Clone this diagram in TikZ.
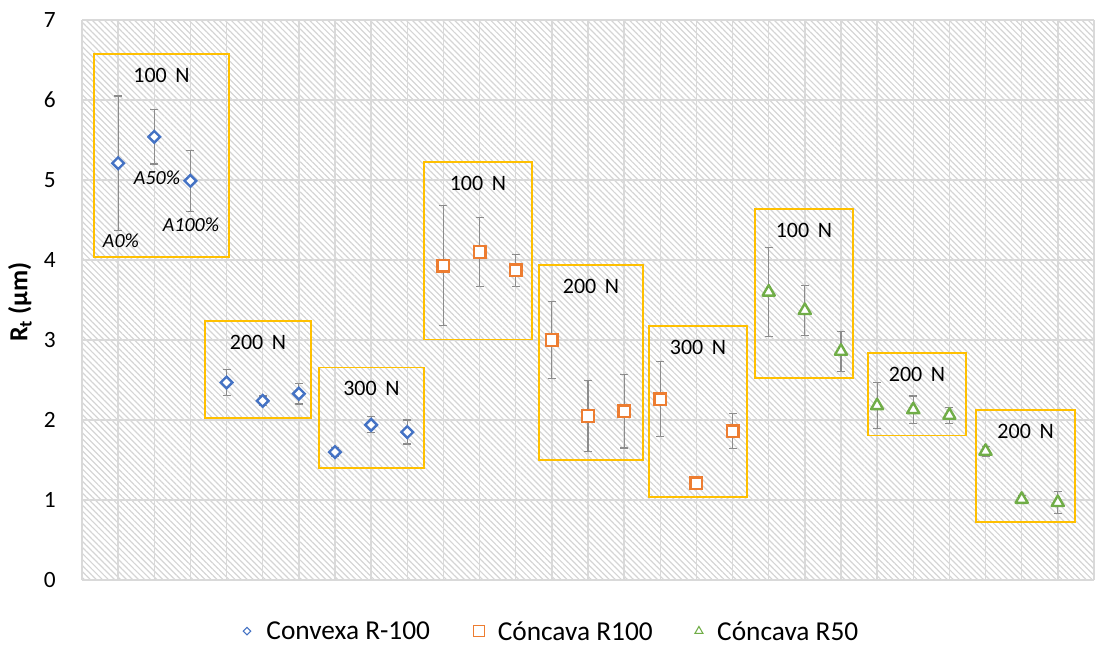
\documentclass[tikz,border=0pt]{standalone}
\usepackage{fontspec}
\setmainfont{Carlito}
\usepackage{xcolor}
\usepackage{tikz}
\usetikzlibrary{shapes.geometric, patterns.meta, positioning}

\definecolor{cvxblue}{HTML}{4472C4}
\definecolor{ccvorange}{HTML}{ED7D31}
\definecolor{ccvgreen}{HTML}{70AD47}
\definecolor{boxgold}{HTML}{FFC000}
\definecolor{gridgray}{HTML}{D9D9D9}
\definecolor{errgray}{HTML}{8C8C8C}

\begin{document}
\begin{tikzpicture}[
    x=27.1pt, y=60pt,
    gridline/.style={draw=gridgray, line width=1.1pt},
    hatch/.style={pattern={Lines[angle=-45, distance=3.2pt, line width=0.9pt]}, pattern color=gray!33},
    errbar/.style={draw=errgray, line width=0.9pt},
    loadbox/.style={draw=boxgold, line width=1.1pt},
    ticklabel/.style={font=\fontsize{17.5}{19}\selectfont, anchor=east, inner sep=0pt},
    loadlabel/.style={font=\fontsize{16.5}{18}\selectfont, inner sep=0pt},
    pctlabel/.style={font=\fontsize{15}{17}\selectfont\itshape, inner sep=0pt},
    axistitle/.style={font=\fontsize{19.5}{21}\selectfont\bfseries, inner sep=0pt},
    markbase/.style={fill=white, inner sep=0pt, line width=1.8pt},
    cvxmark/.style={markbase, draw=cvxblue, diamond, minimum size=9.5pt},
    ccvmark/.style={markbase, draw=ccvorange, rectangle, minimum size=8.7pt},
    ccvsmark/.style={markbase, draw=ccvgreen, regular polygon, regular polygon sides=3, minimum size=10.5pt, line join=round},
    keybase/.style={fill=white, inner sep=0pt, line width=0.8pt},
    keytext/.style={font=\fontsize{20.5}{22}\selectfont, inner sep=0pt, anchor=west},
]

\useasboundingbox (-2.269,-0.825) rectangle (28.057,7.25);

% ---- Plot area ----
\fill[hatch] (0,0) rectangle (28,7);
\foreach \i in {0,...,28}
  \draw[gridline] (\i,0) -- (\i,7);
\foreach \v in {0,...,7} {
  \draw[gridline] (0,\v) -- (28,\v);
  \node[ticklabel] (tick\v) at (-0.72,\v) {\v};
}
\node[axistitle, rotate=90] (ytitle) at (-1.716,3.475) {R\textsubscript{t} (µm)};

% ---- Load groups ----
\foreach \xa/\ya/\xb/\yb/\load/\nm in {
    0.33/6.575/4.07/4.04/100/gA,
    3.40/3.24/6.34/2.025/200/gB,
    6.56/2.66/9.46/1.40/300/gC,
    9.46/5.225/12.45/3.01/100/gD,
    12.65/3.94/15.52/1.50/200/gE,
    15.69/3.175/18.40/1.04/300/gF,
    18.62/4.64/21.33/2.525/100/gG,
    21.75/2.84/24.46/1.81/200/gH,
    24.74/2.125/27.48/0.725/200/gI} {
  \draw[loadbox] (\xa,\ya) rectangle (\xb,\yb);
  \node[loadlabel] (\nm) at ({(\xa+\xb)/2},{\ya-0.265}) {\load\,~N};
}

% ---- Convexa R-100 ----
\foreach \x/\v/\e in {1/5.21/0.84, 2/5.54/0.34, 3/4.99/0.38, 4/2.47/0.16, 5/2.24/0.06,
                      6/2.33/0.13, 7/1.60/0.06, 8/1.94/0.10, 9/1.85/0.15} {
  \draw[errbar] (\x,{\v-\e}) -- (\x,{\v+\e});
  \draw[errbar] (\x,{\v-\e}) ++(-3pt,0) -- ++(6pt,0);
  \draw[errbar] (\x,{\v+\e}) ++(-3pt,0) -- ++(6pt,0);
  \node[cvxmark] (cvx\x) at (\x,\v) {};
}

% ---- Concava R100 ----
\foreach \x/\v/\e in {10/3.93/0.75, 11/4.10/0.43, 12/3.87/0.20, 13/3.00/0.48, 14/2.05/0.44,
                      15/2.11/0.46, 16/2.26/0.47, 17/1.21/0.04, 18/1.86/0.22} {
  \draw[errbar] (\x,{\v-\e}) -- (\x,{\v+\e});
  \draw[errbar] (\x,{\v-\e}) ++(-3pt,0) -- ++(6pt,0);
  \draw[errbar] (\x,{\v+\e}) ++(-3pt,0) -- ++(6pt,0);
  \node[ccvmark] (ccv\x) at (\x,\v) {};
}

% ---- Concava R50 ----
\foreach \x/\v/\e in {19/3.60/0.56, 20/3.37/0.31, 21/2.86/0.25, 22/2.18/0.29, 23/2.13/0.17,
                      24/2.06/0.10, 25/1.61/0.06, 26/1.01/0.05, 27/0.97/0.14} {
  \draw[errbar] (\x,{\v-\e}) -- (\x,{\v+\e});
  \draw[errbar] (\x,{\v-\e}) ++(-3pt,0) -- ++(6pt,0);
  \draw[errbar] (\x,{\v+\e}) ++(-3pt,0) -- ++(6pt,0);
  \node[ccvsmark] (ccvs\x) at (\x,\v) {};
}

% wear share labels, first group
\node[pctlabel] (pct0) at (1.079,4.2375) {A0\%};
\node[pctlabel] (pct50) at (2.075,5.025) {A50\%};
\node[pctlabel] (pct100) at (3.016,4.4375) {A100\%};

% ---- Legend ----
\node[keybase, draw=cvxblue, diamond, minimum size=6pt] (keycvx) at (4.566,-0.6375) {};
\node[keytext, right=11pt of keycvx] (txtcvx) {Convexa R-100};
\node[keybase, draw=ccvorange, rectangle, minimum size=8pt] (keyccv) at (10.985,-0.6375) {};
\node[keytext, right=9.5pt of keyccv] (txtccv) {Cóncava R100};
\node[keybase, draw=ccvgreen, regular polygon, regular polygon sides=3, minimum size=7pt] (keyccvs) at (17.07,-0.6375) {};
\node[keytext, right=11pt of keyccvs] (txtccvs) {Cóncava R50};

\end{tikzpicture}
\end{document}
